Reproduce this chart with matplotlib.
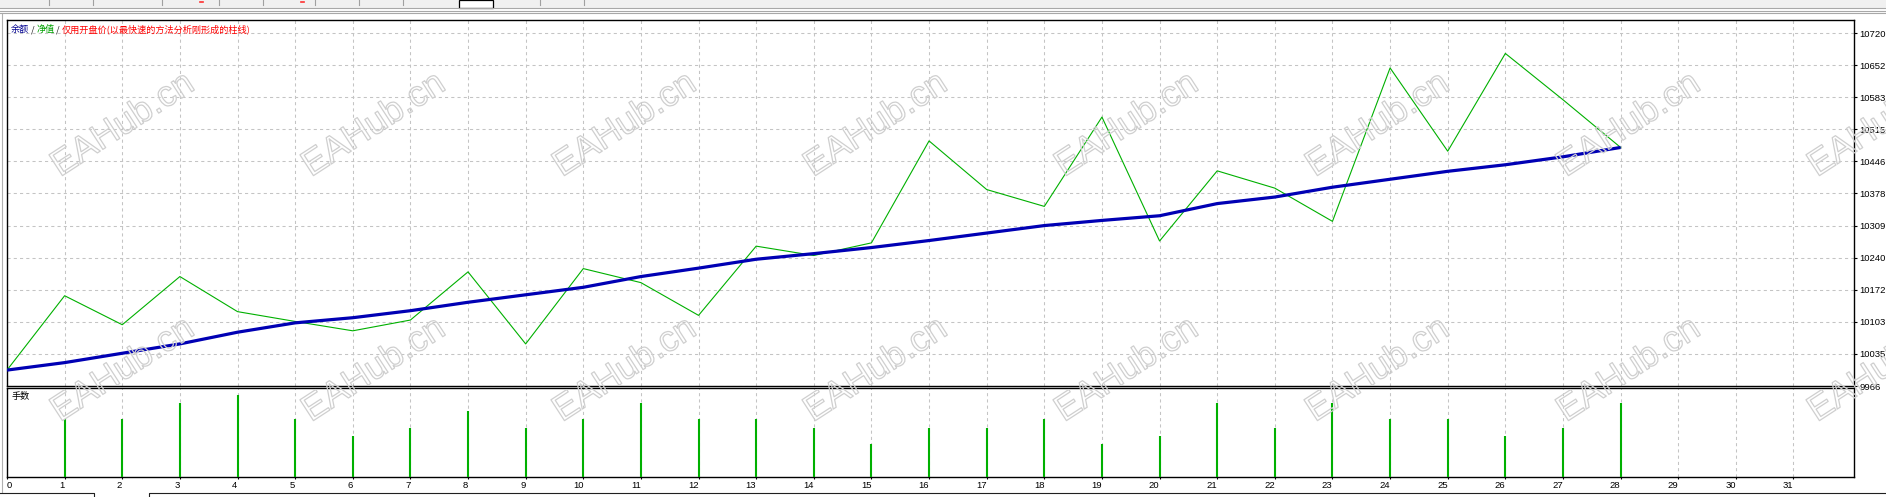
import matplotlib
matplotlib.use("Agg")
import matplotlib.pyplot as plt
import matplotlib.patheffects as pe
from matplotlib.lines import Line2D
from matplotlib.patches import Rectangle

# data
steps = list(range(29))
balance = [10000, 10016, 10036, 10056, 10081, 10101, 10112, 10127, 10145, 10161,
           10177, 10200, 10218, 10237, 10249, 10262, 10277, 10293, 10309, 10320,
           10330, 10356, 10370, 10391, 10408, 10425, 10439, 10456, 10476]
equity = [10000, 10159, 10097, 10200, 10125, 10104, 10084, 10107, 10210, 10056,
          10217, 10187, 10117, 10265, 10245, 10272, 10490, 10386, 10350, 10541,
          10276, 10426, 10389, 10318, 10646, 10468, 10677, 10578, 10476]
lot_steps = list(range(1, 29))
lots = [0.07, 0.07, 0.09, 0.10, 0.07, 0.05, 0.06, 0.08, 0.06, 0.07,
        0.09, 0.07, 0.07, 0.06, 0.04, 0.06, 0.06, 0.07, 0.04, 0.05,
        0.09, 0.06, 0.09, 0.07, 0.07, 0.05, 0.06, 0.09]
y_ticks = [9966, 10035, 10103, 10172, 10240, 10309, 10378, 10446, 10515, 10583, 10652, 10720]
x_ticks = list(range(32))

W, H = 1886, 497
BLUE = '#0000b4'
GREEN = '#00b000'
GRID = '#c4c4c4'
TICKFONT = 'Liberation Sans'
CJK = ['Noto Sans CJK SC', 'DejaVu Sans']

fig = plt.figure(figsize=(W / 100, H / 100), dpi=100)
fig.patch.set_facecolor('white')


def fx(px):
    return px / W


def fy(py):
    return 1 - py / H


left, right = 7, 1854
ax1 = fig.add_axes([fx(left), fy(386), fx(right - left), (386 - 20) / H])
ax2 = fig.add_axes([fx(left), fy(477), fx(right - left), (477 - 388) / H])

xmax = 32.05
ax1.set_xlim(0, xmax)
ax1.set_ylim(9966, 10748.5)
ax2.set_xlim(0, xmax)
ax2.set_ylim(0, 0.108)

for ax in (ax1, ax2):
    for s in ax.spines.values():
        s.set_linewidth(1.0)
        s.set_color('black')
    ax.set_axisbelow(True)
    ax.set_xticks(x_ticks)

ax1.grid(True, color=GRID, linestyle=(0, (3, 3)), linewidth=0.75)
ax2.grid(True, axis='x', color=GRID, linestyle=(0, (3, 3)), linewidth=0.75)

# main panel
ax1.plot(steps, equity, color=GREEN, linewidth=0.8, zorder=3)
ax1.plot(steps, balance, color=BLUE, linewidth=2.3, zorder=4, solid_capstyle='butt')

ax1.yaxis.tick_right()
ax1.set_yticks(y_ticks)
ax1.set_yticklabels([str(v) for v in y_ticks], fontsize=6.8, family=TICKFONT)
ax1.tick_params(axis='y', direction='out', length=2.2, width=0.8, pad=1.4)
ax1.tick_params(axis='x', length=0, labelbottom=False)

# lots panel
ax2.vlines(lot_steps, 0, lots, color=GREEN, linewidth=1.5, zorder=3)
ax2.set_yticks([])
ax2.set_xticklabels([str(v) for v in x_ticks], fontsize=6.8, family=TICKFONT)
ax2.tick_params(axis='x', direction='out', length=1.5, width=0.8, pad=1.5)
for i, lab in enumerate(ax2.get_xticklabels()):
    lab.set_horizontalalignment('left' if i == 0 else 'right')

# legend-like caption
t1 = ax1.text(0.0018, 0.9735, '余额', transform=ax1.transAxes, color='#000090',
              fontsize=6.6, family=CJK, va='center', ha='left')
t2 = ax1.annotate(' / ', xy=(1, 0), xycoords=t1, va='bottom', ha='left',
                  color='#202020', fontsize=6.6, family=CJK)
t3 = ax1.annotate('净值', xy=(1, 0), xycoords=t2, va='bottom', ha='left',
                  color='#00a000', fontsize=6.6, family=CJK)
t4 = ax1.annotate(' / ', xy=(1, 0), xycoords=t3, va='bottom', ha='left',
                  color='#202020', fontsize=6.6, family=CJK)
ax1.annotate('仅用开盘价(以最快速的方法分析刚形成的柱线)', xy=(1, 0), xycoords=t4,
             va='bottom', ha='left', color='#ff0000', fontsize=6.6, family=CJK)

ax2.text(0.0022, 0.9, '手数', transform=ax2.transAxes, color='black',
         fontsize=6.6, family=CJK, va='center', ha='left')

# window chrome around the chart
fig.patches.append(Rectangle((0, fy(8)), 1, 8 / H, transform=fig.transFigure,
                             facecolor='#f0f0f0', edgecolor='none', zorder=0))
for yy in (8, 10.5, 12.5):
    fig.lines.append(Line2D([0, 1], [fy(yy), fy(yy)], transform=fig.transFigure,
                            color='#a8a8a8', linewidth=0.8))
for xx in (49, 93, 162, 219, 263, 315, 359, 403, 540, 584):
    fig.lines.append(Line2D([fx(xx), fx(xx)], [fy(0), fy(5)], transform=fig.transFigure,
                            color='#a0a0a0', linewidth=0.8))
fig.patches.append(Rectangle((fx(459), fy(8)), fx(34), 8 / H, transform=fig.transFigure,
                             facecolor='white', edgecolor='black', linewidth=0.9))
for xx in (200, 301):
    fig.lines.append(Line2D([fx(xx), fx(xx + 3)], [fy(2), fy(2)], transform=fig.transFigure,
                            color='#ff3030', linewidth=1.2))
fig.lines.append(Line2D([fx(2), fx(2)], [fy(14), fy(492)], transform=fig.transFigure,
                        color='#b0b0b0', linewidth=0.8))
# bottom tabs
fig.lines.append(Line2D([0, fx(94), fx(94)], [fy(493), fy(493), fy(497)],
                        transform=fig.transFigure, color='#202020', linewidth=0.8))
fig.lines.append(Line2D([fx(149), fx(149), 1], [fy(497), fy(493), fy(493)],
                        transform=fig.transFigure, color='#202020', linewidth=0.8))

# watermark
for row_y in (125, 370):
    for k in range(8):
        cx = 123 + 251 * k
        fig.text(fx(cx), fy(row_y), 'EAHub.cn', rotation=33, fontsize=26,
                 family='Liberation Sans', color='none', ha='center', va='center',
                 rotation_mode='anchor', zorder=10,
                 path_effects=[pe.Stroke(linewidth=0.9, foreground='#cfcfcf')])

fig.savefig('out.png', dpi=100)
